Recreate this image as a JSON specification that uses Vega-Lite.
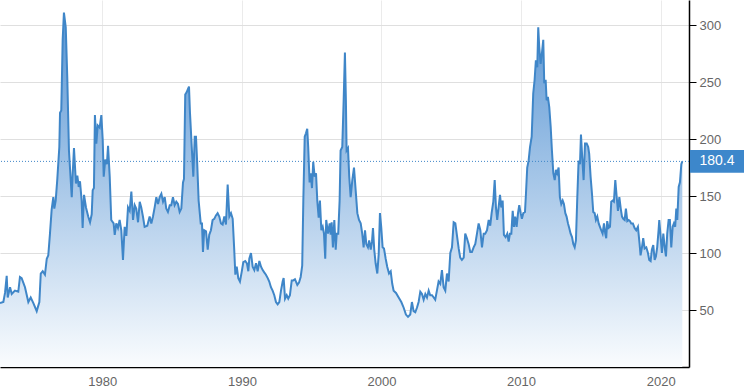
{
  "$schema": "https://vega.github.io/schema/vega-lite/v6.json",
  "width": 689,
  "height": 367,
  "autosize": {"type": "none"},
  "padding": {"left": 0, "top": 0, "right": 55, "bottom": 24},
  "background": "white",
  "config": {
    "view": {"stroke": null},
    "font": "Liberation Sans"
  },
  "datasets": {
    "series": [
      {"t":1972.67,"v":56},{"t":1972.91,"v":57},{"t":1973.03,"v":65},{"t":1973.15,"v":80},{"t":1973.22,"v":61},{"t":1973.39,"v":70},{"t":1973.51,"v":64},{"t":1973.74,"v":67},{"t":1973.98,"v":66},{"t":1974.10,"v":79},{"t":1974.22,"v":78},{"t":1974.46,"v":70},{"t":1974.70,"v":57},{"t":1974.87,"v":61},{"t":1975.06,"v":56},{"t":1975.30,"v":49},{"t":1975.49,"v":57},{"t":1975.59,"v":82},{"t":1975.73,"v":84},{"t":1975.89,"v":81},{"t":1976.02,"v":95},{"t":1976.13,"v":98},{"t":1976.25,"v":117},{"t":1976.37,"v":138},{"t":1976.49,"v":149},{"t":1976.56,"v":139},{"t":1976.66,"v":146},{"t":1976.77,"v":164},{"t":1976.92,"v":193},{"t":1976.97,"v":223},{"t":1977.06,"v":225},{"t":1977.16,"v":287},{"t":1977.25,"v":311},{"t":1977.38,"v":298},{"t":1977.49,"v":254},{"t":1977.61,"v":190},{"t":1977.81,"v":149},{"t":1977.88,"v":170},{"t":1977.97,"v":192},{"t":1978.11,"v":161},{"t":1978.21,"v":168},{"t":1978.31,"v":158},{"t":1978.40,"v":163},{"t":1978.52,"v":146},{"t":1978.59,"v":122},{"t":1978.69,"v":151},{"t":1978.83,"v":140},{"t":1978.99,"v":132},{"t":1979.12,"v":127},{"t":1979.24,"v":134},{"t":1979.31,"v":155},{"t":1979.40,"v":157},{"t":1979.47,"v":221},{"t":1979.57,"v":196},{"t":1979.67,"v":212},{"t":1979.81,"v":210},{"t":1979.93,"v":221},{"t":1980.03,"v":199},{"t":1980.10,"v":167},{"t":1980.21,"v":182},{"t":1980.33,"v":178},{"t":1980.41,"v":194},{"t":1980.53,"v":167},{"t":1980.64,"v":129},{"t":1980.81,"v":126},{"t":1980.89,"v":116},{"t":1981.00,"v":126},{"t":1981.12,"v":122},{"t":1981.24,"v":129},{"t":1981.36,"v":120},{"t":1981.48,"v":94},{"t":1981.60,"v":123},{"t":1981.72,"v":115},{"t":1981.84,"v":140},{"t":1981.96,"v":137},{"t":1982.08,"v":154},{"t":1982.20,"v":129},{"t":1982.32,"v":142},{"t":1982.43,"v":139},{"t":1982.56,"v":127},{"t":1982.68,"v":145},{"t":1982.79,"v":140},{"t":1982.91,"v":132},{"t":1983.03,"v":123},{"t":1983.22,"v":124},{"t":1983.39,"v":132},{"t":1983.51,"v":126},{"t":1983.63,"v":132},{"t":1983.75,"v":140},{"t":1983.87,"v":149},{"t":1983.99,"v":143},{"t":1984.11,"v":149},{"t":1984.23,"v":152},{"t":1984.35,"v":145},{"t":1984.47,"v":149},{"t":1984.58,"v":139},{"t":1984.70,"v":136},{"t":1984.83,"v":142},{"t":1984.94,"v":142},{"t":1985.06,"v":149},{"t":1985.18,"v":142},{"t":1985.30,"v":145},{"t":1985.42,"v":143},{"t":1985.54,"v":136},{"t":1985.66,"v":139},{"t":1985.78,"v":162},{"t":1985.85,"v":165},{"t":1985.94,"v":239},{"t":1986.04,"v":241},{"t":1986.14,"v":244},{"t":1986.21,"v":246},{"t":1986.28,"v":223},{"t":1986.42,"v":190},{"t":1986.52,"v":167},{"t":1986.62,"v":202},{"t":1986.71,"v":202},{"t":1986.80,"v":178},{"t":1986.90,"v":146},{"t":1987.05,"v":126},{"t":1987.14,"v":126},{"t":1987.21,"v":101},{"t":1987.30,"v":120},{"t":1987.43,"v":119},{"t":1987.55,"v":103},{"t":1987.66,"v":116},{"t":1987.78,"v":120},{"t":1987.90,"v":129},{"t":1988.02,"v":130},{"t":1988.14,"v":133},{"t":1988.26,"v":135},{"t":1988.38,"v":132},{"t":1988.50,"v":126},{"t":1988.62,"v":125},{"t":1988.74,"v":132},{"t":1988.86,"v":125},{"t":1988.98,"v":160},{"t":1989.10,"v":132},{"t":1989.22,"v":135},{"t":1989.34,"v":130},{"t":1989.45,"v":103},{"t":1989.53,"v":81},{"t":1989.63,"v":88},{"t":1989.74,"v":78},{"t":1989.86,"v":75},{"t":1989.98,"v":83},{"t":1990.10,"v":92},{"t":1990.24,"v":93},{"t":1990.36,"v":91},{"t":1990.46,"v":84},{"t":1990.53,"v":95},{"t":1990.65,"v":100},{"t":1990.77,"v":88},{"t":1990.89,"v":85},{"t":1991.01,"v":91},{"t":1991.13,"v":84},{"t":1991.25,"v":93},{"t":1991.37,"v":88},{"t":1991.49,"v":85},{"t":1991.60,"v":83},{"t":1991.72,"v":81},{"t":1991.85,"v":78},{"t":1991.96,"v":75},{"t":1992.08,"v":70},{"t":1992.20,"v":67},{"t":1992.32,"v":63},{"t":1992.44,"v":57},{"t":1992.56,"v":55},{"t":1992.68,"v":57},{"t":1992.80,"v":67},{"t":1992.92,"v":75},{"t":1992.99,"v":78},{"t":1993.09,"v":60},{"t":1993.21,"v":63},{"t":1993.32,"v":60},{"t":1993.44,"v":63},{"t":1993.57,"v":76},{"t":1993.68,"v":76},{"t":1993.80,"v":77},{"t":1993.97,"v":72},{"t":1994.09,"v":74},{"t":1994.21,"v":79},{"t":1994.32,"v":89},{"t":1994.40,"v":146},{"t":1994.50,"v":202},{"t":1994.59,"v":205},{"t":1994.68,"v":209},{"t":1994.75,"v":193},{"t":1994.85,"v":162},{"t":1994.93,"v":170},{"t":1995.02,"v":157},{"t":1995.11,"v":180},{"t":1995.21,"v":167},{"t":1995.31,"v":170},{"t":1995.40,"v":146},{"t":1995.50,"v":131},{"t":1995.59,"v":146},{"t":1995.69,"v":120},{"t":1995.79,"v":123},{"t":1995.88,"v":117},{"t":1995.97,"v":95},{"t":1996.04,"v":129},{"t":1996.17,"v":117},{"t":1996.29,"v":126},{"t":1996.36,"v":116},{"t":1996.43,"v":127},{"t":1996.52,"v":105},{"t":1996.62,"v":129},{"t":1996.72,"v":103},{"t":1996.79,"v":117},{"t":1996.90,"v":117},{"t":1997.00,"v":146},{"t":1997.07,"v":190},{"t":1997.19,"v":193},{"t":1997.29,"v":234},{"t":1997.38,"v":276},{"t":1997.45,"v":234},{"t":1997.50,"v":190},{"t":1997.60,"v":192},{"t":1997.69,"v":167},{"t":1997.79,"v":149},{"t":1997.91,"v":164},{"t":1998.03,"v":175},{"t":1998.15,"v":155},{"t":1998.27,"v":135},{"t":1998.39,"v":129},{"t":1998.51,"v":126},{"t":1998.62,"v":117},{"t":1998.72,"v":105},{"t":1998.82,"v":120},{"t":1998.91,"v":108},{"t":1999.03,"v":105},{"t":1999.12,"v":111},{"t":1999.23,"v":103},{"t":1999.32,"v":110},{"t":1999.39,"v":122},{"t":1999.48,"v":103},{"t":1999.58,"v":91},{"t":1999.70,"v":82},{"t":1999.80,"v":99},{"t":1999.89,"v":135},{"t":1999.98,"v":123},{"t":2000.08,"v":105},{"t":2000.18,"v":104},{"t":2000.30,"v":95},{"t":2000.41,"v":88},{"t":2000.54,"v":82},{"t":2000.66,"v":84},{"t":2000.77,"v":73},{"t":2000.87,"v":67},{"t":2001.04,"v":65},{"t":2001.23,"v":61},{"t":2001.42,"v":57},{"t":2001.59,"v":52},{"t":2001.75,"v":46},{"t":2001.90,"v":44},{"t":2002.06,"v":46},{"t":2002.18,"v":57},{"t":2002.30,"v":49},{"t":2002.42,"v":48},{"t":2002.54,"v":52},{"t":2002.66,"v":57},{"t":2002.78,"v":66},{"t":2002.90,"v":64},{"t":2003.02,"v":59},{"t":2003.14,"v":64},{"t":2003.26,"v":61},{"t":2003.38,"v":67},{"t":2003.49,"v":63},{"t":2003.62,"v":63},{"t":2003.74,"v":61},{"t":2003.85,"v":59},{"t":2003.97,"v":67},{"t":2004.09,"v":75},{"t":2004.21,"v":73},{"t":2004.33,"v":85},{"t":2004.45,"v":70},{"t":2004.57,"v":67},{"t":2004.69,"v":82},{"t":2004.81,"v":75},{"t":2004.93,"v":100},{"t":2005.05,"v":105},{"t":2005.17,"v":127},{"t":2005.29,"v":126},{"t":2005.41,"v":115},{"t":2005.53,"v":104},{"t":2005.64,"v":96},{"t":2005.76,"v":94},{"t":2005.89,"v":96},{"t":2006.00,"v":117},{"t":2006.12,"v":113},{"t":2006.24,"v":108},{"t":2006.36,"v":101},{"t":2006.48,"v":101},{"t":2006.60,"v":105},{"t":2006.72,"v":108},{"t":2006.84,"v":117},{"t":2006.96,"v":126},{"t":2007.08,"v":120},{"t":2007.20,"v":105},{"t":2007.32,"v":117},{"t":2007.43,"v":117},{"t":2007.56,"v":120},{"t":2007.68,"v":129},{"t":2007.79,"v":124},{"t":2007.89,"v":135},{"t":2008.01,"v":145},{"t":2008.11,"v":164},{"t":2008.20,"v":140},{"t":2008.29,"v":129},{"t":2008.39,"v":140},{"t":2008.49,"v":151},{"t":2008.58,"v":140},{"t":2008.68,"v":146},{"t":2008.77,"v":116},{"t":2008.89,"v":114},{"t":2009.01,"v":117},{"t":2009.11,"v":110},{"t":2009.20,"v":117},{"t":2009.30,"v":117},{"t":2009.40,"v":137},{"t":2009.49,"v":123},{"t":2009.58,"v":132},{"t":2009.68,"v":123},{"t":2009.78,"v":135},{"t":2009.87,"v":142},{"t":2009.97,"v":135},{"t":2010.06,"v":130},{"t":2010.16,"v":135},{"t":2010.28,"v":136},{"t":2010.35,"v":152},{"t":2010.44,"v":175},{"t":2010.54,"v":181},{"t":2010.64,"v":193},{"t":2010.76,"v":202},{"t":2010.87,"v":240},{"t":2010.97,"v":252},{"t":2011.06,"v":269},{"t":2011.16,"v":263},{"t":2011.23,"v":298},{"t":2011.30,"v":281},{"t":2011.40,"v":266},{"t":2011.49,"v":275},{"t":2011.59,"v":287},{"t":2011.66,"v":249},{"t":2011.76,"v":252},{"t":2011.83,"v":234},{"t":2011.92,"v":237},{"t":2012.02,"v":228},{"t":2012.12,"v":211},{"t":2012.21,"v":190},{"t":2012.31,"v":170},{"t":2012.41,"v":164},{"t":2012.50,"v":173},{"t":2012.59,"v":170},{"t":2012.69,"v":175},{"t":2012.78,"v":149},{"t":2012.88,"v":143},{"t":2012.98,"v":146},{"t":2013.07,"v":143},{"t":2013.17,"v":135},{"t":2013.26,"v":132},{"t":2013.36,"v":126},{"t":2013.45,"v":122},{"t":2013.55,"v":117},{"t":2013.65,"v":114},{"t":2013.74,"v":108},{"t":2013.84,"v":105},{"t":2013.93,"v":111},{"t":2014.02,"v":146},{"t":2014.12,"v":181},{"t":2014.22,"v":178},{"t":2014.29,"v":204},{"t":2014.38,"v":184},{"t":2014.48,"v":164},{"t":2014.58,"v":196},{"t":2014.70,"v":196},{"t":2014.81,"v":193},{"t":2014.88,"v":187},{"t":2014.98,"v":167},{"t":2015.08,"v":152},{"t":2015.17,"v":136},{"t":2015.27,"v":135},{"t":2015.36,"v":129},{"t":2015.46,"v":132},{"t":2015.56,"v":126},{"t":2015.65,"v":123},{"t":2015.74,"v":120},{"t":2015.84,"v":117},{"t":2015.94,"v":126},{"t":2016.03,"v":117},{"t":2016.10,"v":113},{"t":2016.17,"v":128},{"t":2016.27,"v":122},{"t":2016.37,"v":123},{"t":2016.46,"v":145},{"t":2016.56,"v":146},{"t":2016.65,"v":145},{"t":2016.75,"v":164},{"t":2016.85,"v":149},{"t":2016.94,"v":137},{"t":2017.04,"v":149},{"t":2017.14,"v":139},{"t":2017.23,"v":132},{"t":2017.32,"v":130},{"t":2017.42,"v":129},{"t":2017.51,"v":139},{"t":2017.61,"v":128},{"t":2017.71,"v":129},{"t":2017.80,"v":128},{"t":2017.89,"v":126},{"t":2018.01,"v":126},{"t":2018.13,"v":122},{"t":2018.25,"v":120},{"t":2018.37,"v":123},{"t":2018.49,"v":108},{"t":2018.56,"v":98},{"t":2018.66,"v":105},{"t":2018.75,"v":113},{"t":2018.85,"v":104},{"t":2018.97,"v":105},{"t":2019.09,"v":100},{"t":2019.18,"v":94},{"t":2019.28,"v":93},{"t":2019.37,"v":103},{"t":2019.47,"v":107},{"t":2019.57,"v":94},{"t":2019.66,"v":97},{"t":2019.75,"v":105},{"t":2019.85,"v":120},{"t":2019.90,"v":129},{"t":2020.00,"v":114},{"t":2020.09,"v":100},{"t":2020.19,"v":117},{"t":2020.29,"v":105},{"t":2020.38,"v":97},{"t":2020.47,"v":117},{"t":2020.57,"v":129},{"t":2020.66,"v":129},{"t":2020.76,"v":105},{"t":2020.86,"v":123},{"t":2020.95,"v":126},{"t":2021.04,"v":123},{"t":2021.12,"v":139},{"t":2021.19,"v":129},{"t":2021.29,"v":158},{"t":2021.38,"v":162},{"t":2021.48,"v":178},{"t":2021.55,"v":180.4}
    ],
    "last": [{"v": 180.4}]
  },
  "layer": [
    {
      "data": {"name": "series"},
      "mark": {
        "type": "area",
        "interpolate": "linear",
        "color": {
          "gradient": "linear",
          "x1": 0, "y1": 0, "x2": 0, "y2": 1,
          "stops": [
            {"offset": 0, "color": "#5a96d4"},
            {"offset": 1, "color": "#fafcfe"}
          ]
        }
      },
      "encoding": {
        "x": {
          "field": "t",
          "type": "quantitative",
          "scale": {"domain": [1972.67, 2022.03], "nice": false, "zero": false},
          "axis": {
            "title": null,
            "values": [1980, 1990, 2000, 2010, 2020],
            "format": "d",
            "grid": true,
            "gridColor": "#ebebeb",
            "gridWidth": 1,
            "ticks": false,
            "domain": true,
            "domainColor": "#000000",
            "domainWidth": 1.5,
            "labelColor": "#666666",
            "labelFontSize": 13,
            "labelFont": "Liberation Sans",
            "labelPadding": 8
          }
        },
        "y": {
          "field": "v",
          "type": "quantitative",
          "scale": {"domain": [0, 322], "nice": false},
          "axis": {
            "title": null,
            "orient": "right",
            "values": [50, 100, 150, 200, 250, 300],
            "grid": true,
            "gridColor": "#dfdfdf",
            "gridWidth": 1,
            "ticks": true,
            "tickColor": "#000000",
            "tickSize": 7,
            "tickWidth": 1,
            "domain": true,
            "domainColor": "#000000",
            "domainWidth": 1.5,
            "labelColor": "#666666",
            "labelFontSize": 13,
            "labelFont": "Liberation Sans",
            "labelPadding": 3
          }
        }
      }
    },
    {
      "data": {"name": "series"},
      "mark": {"type": "line", "color": "#3f86c8", "strokeWidth": 2, "interpolate": "linear"},
      "encoding": {
        "x": {"field": "t", "type": "quantitative"},
        "y": {"field": "v", "type": "quantitative"}
      }
    },
    {
      "data": {"name": "last"},
      "mark": {"type": "rule", "color": "#3f86c8", "strokeWidth": 1, "strokeDash": [1, 2]},
      "encoding": {
        "y": {"field": "v", "type": "quantitative"}
      }
    },
    {
      "data": {"name": "last"},
      "mark": {
        "type": "point",
        "shape": "M-1,-0.42H1V0.42H-1Z",
        "size": 2916,
        "filled": true,
        "opacity": 1,
        "color": "#3d87cb",
        "xOffset": 28,
        "clip": false
      },
      "encoding": {
        "x": {"datum": 2022.03, "type": "quantitative"},
        "y": {"field": "v", "type": "quantitative"}
      }
    },
    {
      "data": {"name": "last"},
      "mark": {
        "type": "text",
        "color": "#ffffff",
        "fontSize": 14,
        "font": "Liberation Sans",
        "align": "center",
        "baseline": "middle",
        "dx": 28
      },
      "encoding": {
        "x": {"datum": 2022.03, "type": "quantitative"},
        "y": {"field": "v", "type": "quantitative"},
        "text": {"field": "v", "type": "quantitative", "format": ".1f"}
      }
    }
  ]
}
